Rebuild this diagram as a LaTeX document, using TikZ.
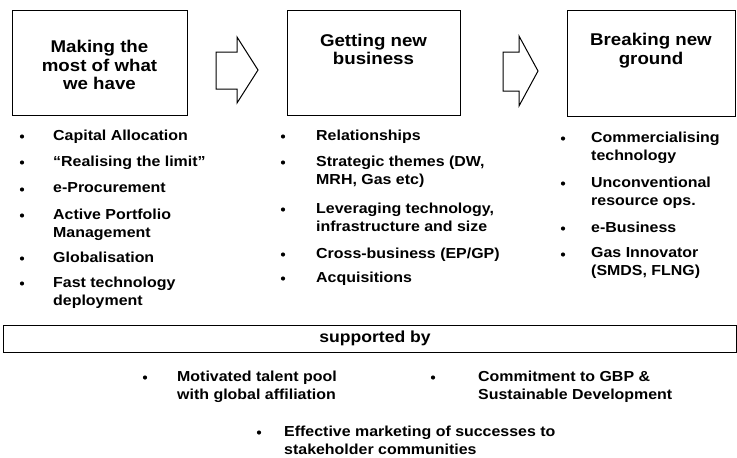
\documentclass[tikz,border=0pt]{standalone}
\usepackage{fontspec}
\setmainfont{Liberation Sans}[FakeStretch=1.1]

\begin{document}
\begin{tikzpicture}[x=1pt,y=-1pt,line join=miter,
    stage/.style={rectangle,draw,line width=0.8pt,inner sep=0pt},
    title/.style={align=center,font=\fontsize{17}{18.5}\selectfont\bfseries},
    item/.style={anchor=north west,align=left,inner sep=0pt,font=\fontsize{14.5}{18}\selectfont\bfseries},
    dot/.style={circle,fill,inner sep=0pt,minimum size=4.2pt},
    blockarrow/.style={draw,line width=1pt,fill=white}]
    \useasboundingbox (0,0) rectangle (737,458);

    \node (making) at (99.5,62.5) [stage,minimum width=175,minimum height=105]{};
    \node (getting) at (373.5,62.5) [stage,minimum width=173,minimum height=105]{};
    \node (breaking) at (651,63.5) [stage,minimum width=168,minimum height=106]{};
    \node (making-t) at (making.center) [title,yshift=-2.5]{Making the\\most of what\\we have};
    \node (getting-t) at (getting.center) [title,yshift=13]{Getting new\\business};
    \node (breaking-t) at (breaking.center) [title,yshift=13]{Breaking new\\ground};

    \draw [blockarrow] (216,52) -- (237,52) -- (237,37) -- (258,70) -- (237,103) -- (237,89) -- (216,89) -- cycle;
    \draw [blockarrow] (503,52) -- (519,52) -- (519,36) -- (538,71) -- (519,106) -- (519,91) -- (503,91) -- cycle;

    \node (c1) at (53,129.5) [item]{Capital Allocation};
    \node (r1) at (53,155.5) [item]{``Realising the limit''};
    \node (p1) at (53,182.5) [item]{e-Procurement};
    \node (a1) at (53,208.5) [item]{Active Portfolio\\Management};
    \node (g1) at (53,251.5) [item]{Globalisation};
    \node (f1) at (53,276.5) [item]{Fast technology\\deployment};
    \foreach \y in {135,161,188,214,257,282}
      \node at (22,\y+1.5) [dot]{};

    \node (r2) at (316,129.5) [item]{Relationships};
    \node (s2) at (316,155.5) [item]{Strategic themes (DW,\\MRH, Gas etc)};
    \node (l2) at (316,202.5) [item]{Leveraging technology,\\infrastructure and size};
    \node (x2) at (316,247.5) [item]{Cross-business (EP/GP)};
    \node (q2) at (316,271.5) [item]{Acquisitions};
    \foreach \y in {135,161,208,253,277}
      \node at (283,\y+1.5) [dot]{};

    \node (c3) at (591,131.5) [item]{Commercialising\\technology};
    \node (u3) at (591,176.5) [item]{Unconventional\\resource ops.};
    \node (e3) at (591,221.5) [item]{e-Business};
    \node (g3) at (591,247.5) [item]{Gas Innovator\\(SMDS, FLNG)};
    \foreach \y in {137,182,227,253}
      \node at (563,\y+1.5) [dot]{};

    \node (support) at (370,338.5) [stage,minimum width=733,minimum height=27]{};
    \node (support-t) at (375,338) [font=\fontsize{16}{18}\selectfont\bfseries]{supported by};

    \node (talent) at (177,370.5) [item]{Motivated talent pool\\with global affiliation};
    \node (gbp) at (478,370.5) [item]{Commitment to GBP \&\\Sustainable Development};
    \node (market) at (284,425.5) [item]{Effective marketing of successes to\\stakeholder communities};
    \node at (145,377.5) [dot]{};
    \node at (433,377.5) [dot]{};
    \node at (259,432.5) [dot]{};
  \end{tikzpicture}
\end{document}
